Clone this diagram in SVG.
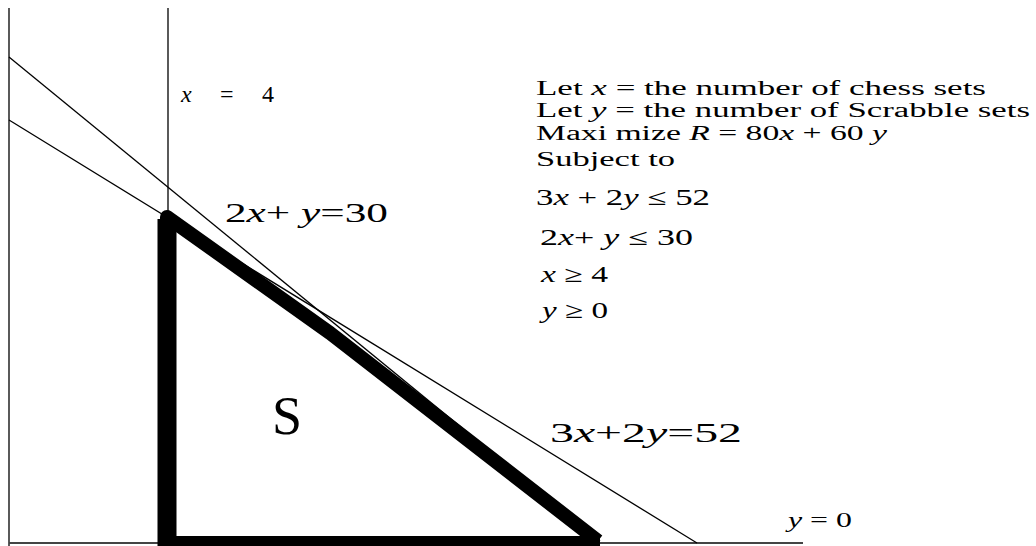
<svg xmlns="http://www.w3.org/2000/svg" width="1036" height="546" viewBox="0 0 1036 546">
<style>
text{font-family:"Liberation Serif","DejaVu Serif",serif;fill:#000}
.i{font-style:italic}
.thin{stroke:#000;stroke-width:1.3;fill:none}
</style>
<rect width="1036" height="546" fill="#fff"/>
<g id="axes">
<line class="thin" x1="9" y1="8" x2="9" y2="546" stroke-width="1.6"/>
<line x1="9" y1="543" x2="803" y2="543" stroke="#444" stroke-width="2"/>
</g>
<g id="connectors">
<line id="x4" class="thin" x1="168" y1="8" x2="168" y2="215"/>
<line id="c2x" class="thin" x1="9" y1="57" x2="600" y2="541"/>
<line id="c3x" class="thin" x1="9" y1="120" x2="697" y2="543"/>
</g>
<g id="region">
<path d="M167,546 L167,217 L330,333 L598,541" fill="none" stroke="#000" stroke-width="14" stroke-linejoin="round"/>
<line x1="167" y1="219" x2="167" y2="546" stroke="#000" stroke-width="19"/>
<line x1="160" y1="541" x2="600" y2="541" stroke="#000" stroke-width="10"/>
</g>
<g id="labels">
<text x="181" y="102" font-size="24" textLength="93" lengthAdjust="spacing"><tspan class="i">x</tspan> = 4</text>
<text x="225" y="222" font-size="27" textLength="163" lengthAdjust="spacingAndGlyphs">2<tspan class="i">x</tspan>+ <tspan class="i">y</tspan>=30</text>
<text x="550" y="442" font-size="27" textLength="192" lengthAdjust="spacingAndGlyphs">3<tspan class="i">x</tspan>+2<tspan class="i">y</tspan>=52</text>
<text x="272" y="434" font-size="54">S</text>
<text x="788" y="527" font-size="22" textLength="64" lengthAdjust="spacingAndGlyphs"><tspan class="i">y</tspan> = 0</text>
</g>
<g id="model">
<text x="536" y="95" font-size="20" textLength="450" lengthAdjust="spacingAndGlyphs">Let <tspan class="i">x</tspan> = the number of chess sets</text>
<text x="536" y="117" font-size="20" textLength="494" lengthAdjust="spacingAndGlyphs">Let <tspan class="i">y</tspan> = the number of Scrabble sets</text>
<text x="536" y="140" font-size="20" textLength="351" lengthAdjust="spacingAndGlyphs">Maxi mize  <tspan class="i">R</tspan> = 80<tspan class="i">x</tspan> + 60 <tspan class="i">y</tspan></text>
<text x="536" y="166" font-size="20" textLength="139" lengthAdjust="spacingAndGlyphs">Subject to</text>
<text x="536" y="205" font-size="23" textLength="174" lengthAdjust="spacingAndGlyphs">3<tspan class="i">x</tspan> + 2<tspan class="i">y</tspan> ≤ 52</text>
<text x="540" y="245" font-size="23" textLength="153" lengthAdjust="spacingAndGlyphs">2<tspan class="i">x</tspan>+ <tspan class="i">y</tspan> ≤ 30</text>
<text x="541" y="282" font-size="23" textLength="67" lengthAdjust="spacingAndGlyphs"><tspan class="i">x</tspan> ≥ 4</text>
<text x="542" y="318" font-size="23" textLength="66" lengthAdjust="spacingAndGlyphs"><tspan class="i">y</tspan> ≥ 0</text>
</g>
</svg>
